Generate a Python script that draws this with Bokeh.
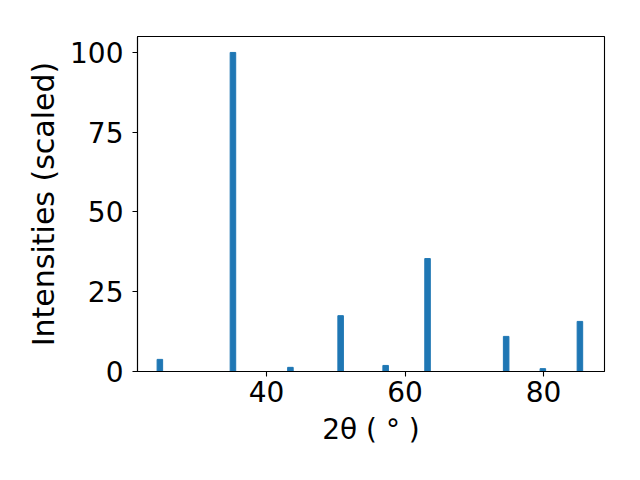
from bokeh.plotting import figure
from bokeh.embed import file_html
from bokeh.resources import INLINE
from bokeh.models import FixedTicker, ColumnDataSource, Range1d

two_theta = [24.6, 35.15, 43.45, 50.7, 57.2, 63.25, 74.6, 79.9, 85.25]
intensity = [3.8, 100.0, 1.3, 17.5, 1.9, 35.4, 11.0, 0.9, 15.7]
x_ticks = [40, 60, 80]
y_ticks = [0, 25, 50, 75, 100]

src = ColumnDataSource(dict(x=two_theta, top=intensity))

p = figure(width=624, height=464, output_backend="svg", toolbar_location=None,
           x_range=Range1d(21.37, 88.8), y_range=Range1d(0, 105))
p.min_border_left = 137
p.min_border_right = 20
p.min_border_top = 36
p.min_border_bottom = 93

p.vbar(x="x", top="top", bottom=0, width=0.8, source=src, color="#1f77b4")

p.xgrid.visible = False
p.ygrid.visible = False
p.outline_line_color = "black"
p.outline_line_width = 1.1
p.outline_line_alpha = 1

for ax in (p.xaxis[0], p.yaxis[0]):
    ax.axis_line_color = "black"
    ax.axis_line_width = 1.1
    ax.major_tick_line_color = "black"
    ax.major_tick_line_width = 1.1
    ax.major_tick_out = 5
    ax.major_tick_in = 0
    ax.minor_tick_line_color = None
    ax.major_label_text_font = "DejaVu Sans"
    ax.major_label_text_font_size = "28px"
    ax.major_label_text_color = "black"
    ax.axis_label_text_font = "DejaVu Sans"
    ax.axis_label_text_font_size = "28px"
    ax.axis_label_text_font_style = "normal"
    ax.axis_label_text_color = "black"

p.yaxis[0].axis_label_text_font_size = "30px"
p.xaxis[0].ticker = FixedTicker(ticks=x_ticks)
p.yaxis[0].ticker = FixedTicker(ticks=y_ticks)
p.xaxis[0].axis_label = "2θ ( ° )"
p.yaxis[0].axis_label = "Intensities (scaled)"
p.xaxis[0].major_label_standoff = 4
p.yaxis[0].major_label_standoff = 9
p.xaxis[0].axis_label_standoff = 8
p.yaxis[0].axis_label_standoff = 6

open("out.html", "w").write(file_html(p, INLINE))
